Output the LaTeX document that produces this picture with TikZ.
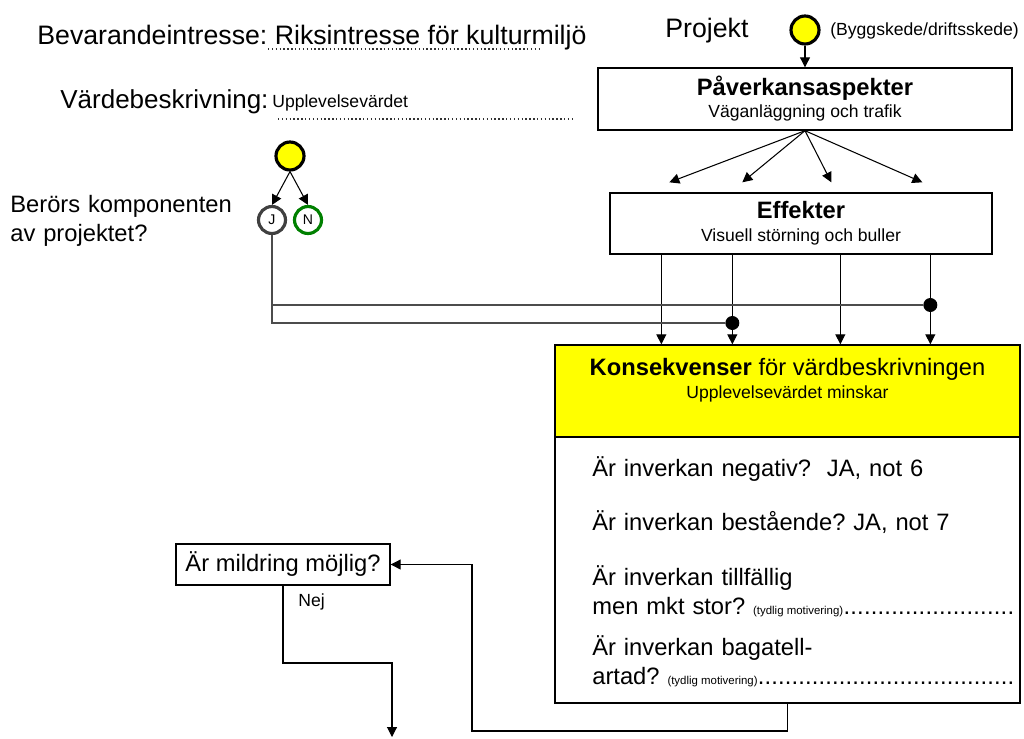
\documentclass[tikz,border=0pt]{standalone}
\usepackage{fontspec}
\setmainfont{Liberation Sans}
\usetikzlibrary{arrows.meta, positioning, calc}
\definecolor{KonsYellow}{HTML}{FFFF00}
\definecolor{JGray}{HTML}{404040}
\definecolor{NGreen}{HTML}{008000}
\newcommand{\txtL}{\fontsize{15.2}{18}\selectfont}
\newcommand{\txtM}{\fontsize{13.5}{17}\selectfont}
\newcommand{\txtS}{\fontsize{10}{12.5}\selectfont}
\newcommand{\txtXS}{\fontsize{6.5}{7}\selectfont\spaceskip=0pt\xspaceskip=0pt}
\newcommand{\dotrow}{\xleaders\hbox{.}\hskip 0pt plus 1fill\null}
\frenchspacing

\begin{document}
\begin{tikzpicture}[x=0.02cm, y=-0.02cm,
    box/.style={draw, line width=0.8pt, align=center, inner sep=0pt, font=\txtS},
    ttl/.style={anchor=base west, inner sep=0pt, font=\txtL},
    note/.style={anchor=base west, inner sep=0pt, font=\txtS},
    qtext/.style={anchor=base west, inner sep=0pt, align=left, text width=8.44cm, font=\txtM},
    side/.style={anchor=base west, inner sep=0pt, align=left, text width=4.6cm, font=\txtM},
    start/.style={circle, draw, line width=1.8pt, fill=KonsYellow, minimum size=0.56cm, inner sep=0pt},
    yn/.style={circle, draw, line width=1.8pt, fill=white, minimum size=0.54cm, inner sep=0pt, font=\fontsize{8}{9}\selectfont},
    dot/.style={circle, fill=black, minimum size=0.28cm, inner sep=0pt},
    arr/.style={-{Triangle[length=2mm, width=2mm]}, line width=0.6pt},
    wire/.style={line width=0.9pt, black!70},
    dotline/.style={line width=1pt, black!80, dash pattern=on 0.8pt off 1.4pt},
  ]
  \useasboundingbox (0,0) rectangle (1024,738);

  % rubriker
  \node[ttl] (bev) at (37,44) {Bevarandeintresse: Riksintresse för kulturmiljö};
  \draw[dotline] (268,49) -- (540,49);
  \node[ttl, font=\fontsize{14.8}{18}\selectfont] (vard) at (60,108) {Värdebeskrivning:};
  \node[note] (vardval) at (272,107) {Upplevelsevärdet};
  \draw[dotline] (278,119) -- (575,119);

  % projekt
  \node[ttl] (proj) at (665,37) {Projekt};
  \node[start] (ycirc) at (805,30) {};
  \node[note] (skede) at (830,35) {(Byggskede/driftsskede)};

  \node[box, minimum width=8.28cm, minimum height=1.24cm] (pav) at (805,99)
    {{\fontsize{13.5}{12.5}\selectfont\bfseries Påverkansaspekter}\\Väganläggning och trafik};
  \node[box, minimum width=7.64cm, minimum height=1.22cm] (eff) at (801,223.5)
    {{\fontsize{13.5}{13}\selectfont\bfseries Effekter}\\[0.5pt]Visuell störning och buller};

  % komponent
  \node[side] (berors) at (10,212) {Berörs komponenten\\av projektet?};
  \node[start] (qcirc) at (290,156) {};
  \node[yn, draw=JGray] (J) at (272,220) {J};
  \node[yn, draw=NGreen] (N) at (308,220) {N};
  \draw[arr] (qcirc.south) -- (J.north);
  \draw[arr] (qcirc.south) -- (N.north);

  % konsekvenser
  \node[box, fill=KonsYellow, minimum width=9.3cm, minimum height=1.84cm] (konsHead) at (787.5,391) {};
  \node[box, minimum width=9.3cm, minimum height=5.32cm] (konsBody) at (787.5,570) {};
  \node[align=center, inner sep=0pt, font=\fontsize{10}{13}\selectfont] (konsTitle) at (787.5,380)
    {{\fontsize{13.5}{13}\selectfont\textbf{Konsekvenser} för värdbeskrivningen}\\Upplevelsevärdet minskar};
  \node[qtext] (q1) at (592,476) {Är inverkan negativ?\ \ JA, not 6};
  \node[qtext] (q2) at (592,530) {Är inverkan bestående? JA, not 7};
  \node[qtext] (q3) at (592,585) {Är inverkan tillfällig\\men mkt stor? {\txtXS(tydlig motivering)}\dotrow};
  \node[qtext] (q4) at (592,655) {Är inverkan bagatell-\\artad? {\txtXS(tydlig motivering)}\dotrow};

  % mildring
  \node[box, font=\txtM, minimum width=4.28cm, minimum height=0.82cm] (mild) at (283,564.5) {Är mildring möjlig?};
  \node[note] (nej) at (298,606) {Nej};

  % pilar
  \draw[arr] (ycirc) -- (pav);
  \foreach \dx in {60,133,222,313}
    \draw[arr] (pav.south) -- ($(eff.north west)+(\dx,-10)$);
  \foreach \dx/\nm in {52/a,123/b,231/c,321/d} {
    \coordinate (e\nm) at ($(eff.south west)+(\dx,0)$);
    \draw[arr] (e\nm) -- (e\nm |- konsHead.north);
  }
  \node[dot] (dotA) at (eb |- 0,323) {};
  \node[dot] (dotB) at (ed |- 0,305) {};
  \draw[wire] (J.south) |- (dotA);
  \draw[wire] (J.south |- dotB) -- (dotB);

  \coordinate (backCorner) at (472,731);
  \draw[arr] (konsBody.south) |- (backCorner) |- (mild.east);
  \coordinate (nejBend) at (392,663);
  \coordinate (nejEnd) at (392,737);
  \draw[arr] (mild.south) |- (nejBend) -- (nejEnd);
\end{tikzpicture}
\end{document}
